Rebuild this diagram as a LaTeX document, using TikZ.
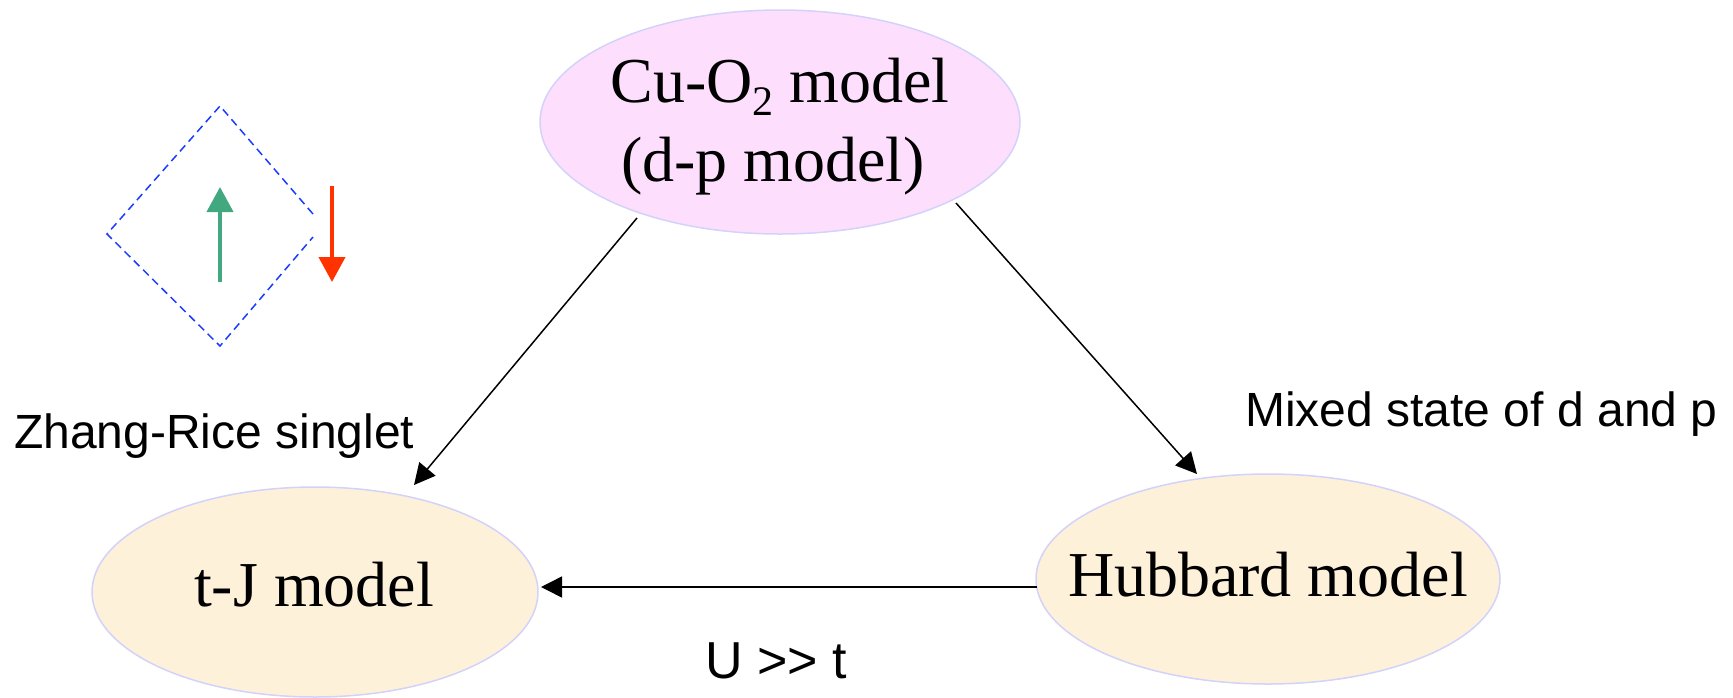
\documentclass[tikz,border=0pt]{standalone}
\usepackage{fontspec}
\setmainfont{Liberation Serif}
\newfontfamily\lab{Liberation Sans}
\usetikzlibrary{arrows.meta,shapes.geometric}
\definecolor{pinkf}{HTML}{FDDFFD}
\definecolor{creamf}{HTML}{FEF1DA}
\definecolor{edgec}{HTML}{D2D2FA}
\definecolor{upc}{HTML}{42A880}
\definecolor{downc}{HTML}{FF3300}
\definecolor{dashc}{HTML}{1A3CFF}
\newcommand{\lowtwo}{\raisebox{-0.2em}{\fontsize{42}{42}\selectfont 2}}
\tikzset{
 x=1pt,y=-1pt,
 model/.style={ellipse,draw=edgec,line width=1.5pt,inner sep=0},
 title/.style={inner sep=0,font=\fontsize{64}{75}\selectfont},
 note/.style={inner sep=0,font=\lab\fontsize{48}{56}\selectfont,anchor=west},
 conn/.style={draw=black,line width=1.5pt,-{Triangle[length=21pt,width=21pt]}},
 spin/.style={line width=4pt,-{Triangle[length=25pt,width=26pt]}}
}
\begin{document}
\begin{tikzpicture}
\useasboundingbox (0,0) rectangle (1733,697);
\node[model,fill=pinkf,minimum width=480,minimum height=224] (cu) at (780,122) {};
\node[model,fill=creamf,minimum width=446,minimum height=210] (tj) at (315,592) {};
\node[model,fill=creamf,minimum width=464,minimum height=210] (hub) at (1268,579) {};
\node[title] (cut1) at (780,87) {Cu-O\lowtwo{} model};
\node[title] (cut2) at (773,166) {(d-p model)};
\node[title] (tjt) at (314,585) {t-J model};
\node[title] (hubt) at (1268,575) {Hubbard model};
\coordinate (a1) at (637,218); \coordinate (a2) at (414,485);
\coordinate (b1) at (956,203); \coordinate (b2) at (1197,474);
\coordinate (c1) at (1037,587); \coordinate (c2) at (541,587);
\draw[conn] (a1) -- (a2);
\draw[conn] (b1) -- (b2);
\draw[conn] (c1) -- (c2);
\node[note] (zr) at (14,436) {Zhang-Rice singlet};
\node[note] (mx) at (1245,414) {Mixed state of d and p};
\node[note,anchor=center,font=\lab\fontsize{52}{60}\selectfont] (ut) at (776,661) {U >> t};
\coordinate (dt) at (220,106); \coordinate (dl) at (107,234); \coordinate (db) at (220,346);
\coordinate (dr1) at (313,214); \coordinate (dr2) at (313,237);
\draw[dashc,dashed,dash pattern=on 8pt off 5pt,line width=1.5pt] (dr1) -- (dt) -- (dl) -- (db) -- (dr2);
\coordinate (u1) at (220,282); \coordinate (u2) at (220,187);
\coordinate (d1) at (332,186); \coordinate (d2) at (332,282);
\draw[spin,draw=upc,fill=upc] (u1) -- (u2);
\draw[spin,draw=downc,fill=downc] (d1) -- (d2);
\end{tikzpicture}
\end{document}
